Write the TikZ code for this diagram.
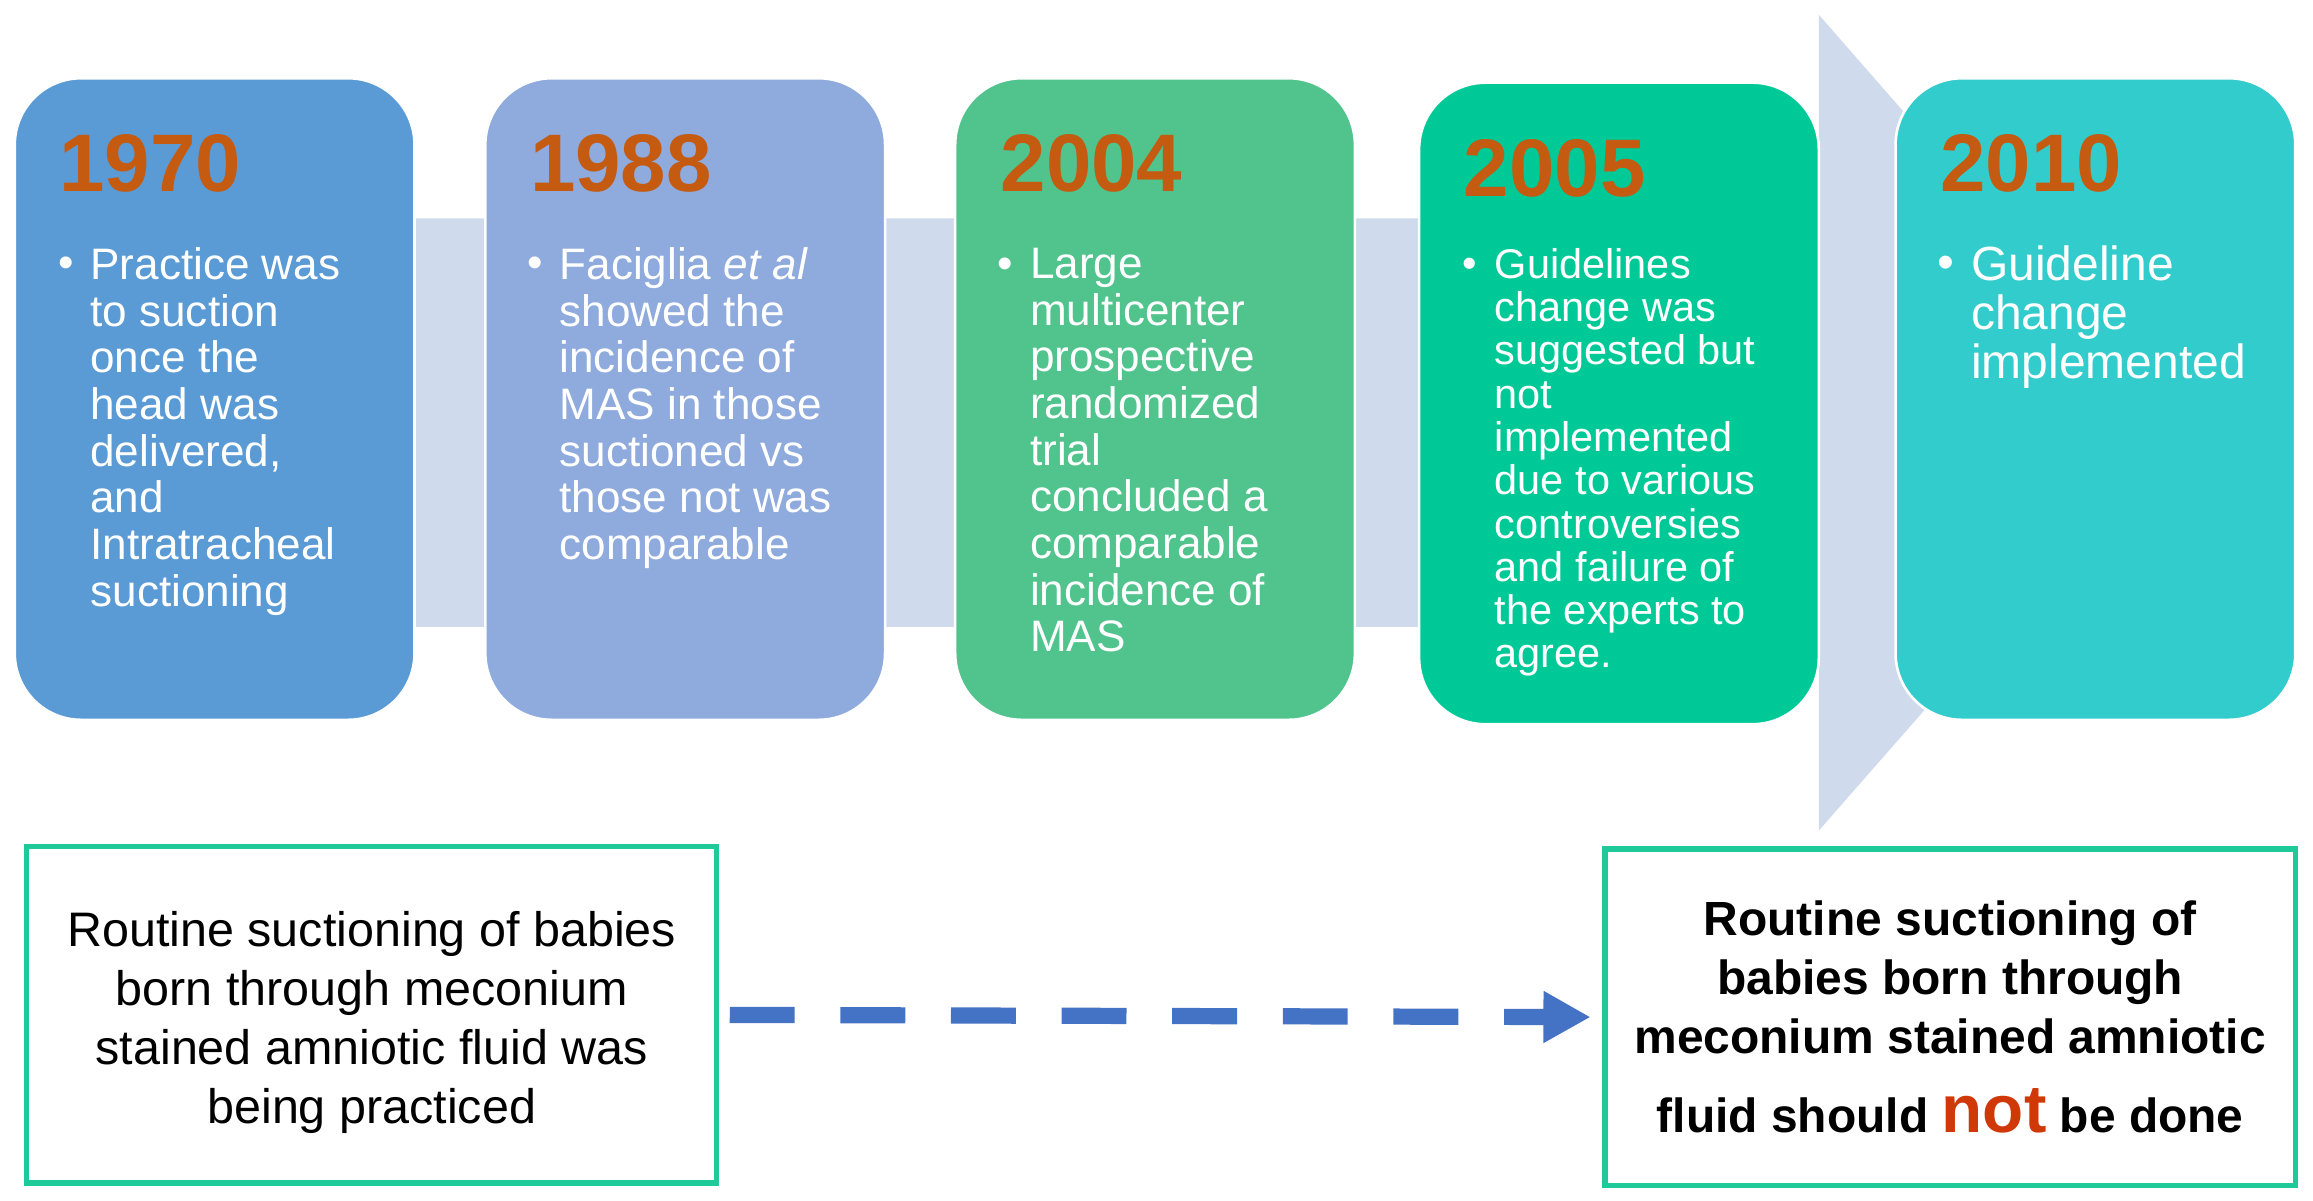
\documentclass[tikz,border=0pt]{standalone}
\usepackage{fontspec}
\setmainfont{Liberation Sans}
\usetikzlibrary{arrows.meta, positioning, calc}

\definecolor{bandcol}{RGB}{208,218,237}
\definecolor{blueA}{RGB}{91,155,213}
\definecolor{blueB}{RGB}{143,170,220}
\definecolor{greenA}{RGB}{80,196,140}
\definecolor{greenB}{RGB}{0,201,152}
\definecolor{cyanA}{RGB}{51,204,204}
\definecolor{yearorange}{RGB}{197,90,17}
\definecolor{notred}{RGB}{208,56,8}
\definecolor{noteteal}{RGB}{30,201,154}
\definecolor{arrowblue}{RGB}{68,114,196}

\begin{document}
\begin{tikzpicture}[x=0.02cm, y=-0.02cm,
    yearbox/.style={draw=white, line width=1pt, rounded corners=0.9cm, minimum width=5.42cm, minimum height=8.7cm, inner sep=0pt},
    year/.style={anchor=base west, inner sep=0pt, text=yearorange, font=\bfseries\fontsize{31.5}{36}\selectfont},
    dot/.style={anchor=base west, inner sep=0pt, text=white, font=\fontsize{17}{18}\selectfont},
    bullet/.style={anchor=north west, inner sep=0pt, align=left, text=white, font=\fontsize{17}{18}\selectfont},
    notebox/.style={draw=noteteal, line width=0.07cm, fill=white, minimum width=9.36cm, minimum height=4.56cm, inner sep=0pt, align=center}]
    \useasboundingbox (0,0) rectangle (1568,813.5);

    % timeline band
    \fill[bandcol] (12,148) -- (1233,148) -- (1233,10) -- (1475,287) -- (1233,563) -- (1233,425) -- (12,425) -- cycle;

    \node[yearbox, fill=blueA] (b1970) at (145.5,270.5) {};
    \node[yearbox, fill=blueB] (b1988) at (464.5,270.5) {};
    \node[yearbox, fill=greenA] (b2004) at (783,270.5) {};
    \node[yearbox, fill=greenB] (b2005) at (1097.5,273.5) {};
    \node[yearbox, fill=cyanA] (b2010) at (1420.5,270.5) {};

    \node[year] (y1970) at (40,130) {1970};
    \node[dot] (d1970) at (39,188) {•};
    \node[bullet] (t1970) at (61,167.5) {Practice was\\to suction\\once the\\head was\\delivered,\\and\\Intratracheal\\suctioning};

    \node[year] (y1988) at (359,130) {1988};
    \node[dot] (d1988) at (357,188) {•};
    \node[bullet] (t1988) at (379,167.5) {Faciglia \textit{et al}\\showed the\\incidence of\\MAS in those\\suctioned vs\\those not was\\comparable};

    \node[year] (y2004) at (678,130) {2004};
    \node[dot] (d2004) at (676,188.5) {•};
    \node[bullet] (t2004) at (698,168) {Large\\multicenter\\prospective\\randomized\\trial\\concluded a\\comparable\\incidence of\\MAS};

    \node[year] (y2005) at (992,133) {2005};
    \node[dot, font=\fontsize{16}{17}\selectfont] (d2005) at (991,188) {•};
    \node[bullet, font=\fontsize{16}{16.7}\selectfont] (t2005) at (1013,168) {Guidelines\\change was\\suggested but\\not\\implemented\\due to various\\controversies\\and failure of\\the experts to\\agree.};

    \node[year] (y2010) at (1315,130) {2010};
    \node[dot, font=\fontsize{18.5}{19}\selectfont] (d2010) at (1313,189) {•};
    \node[bullet, font=\fontsize{18.5}{19}\selectfont] (t2010) at (1336,166) {Guideline\\change\\implemented};

    % before and after
    \node[notebox, font=\fontsize{18.7}{22.7}\selectfont] (before) at (252,688) {\\[-0.11cm]Routine suctioning of babies\\born through meconium\\stained amniotic fluid was\\being practiced};
    \node[notebox, font=\bfseries\fontsize{18.5}{22.7}\selectfont] (after) at (1322,689.5) {Routine suctioning of\\babies born through\\meconium stained amniotic\\[0.28cm]fluid should {\color{notred}\fontsize{26}{26}\selectfont not} be done};

    \draw[arrowblue, line width=0.22cm, dash pattern=on 0.88cm off 0.62cm, -{Triangle[length=0.64cm, width=0.66cm]}, shorten <=0.14cm, shorten >=0.16cm] (before.east) -- (after.west);
\end{tikzpicture}
\end{document}
